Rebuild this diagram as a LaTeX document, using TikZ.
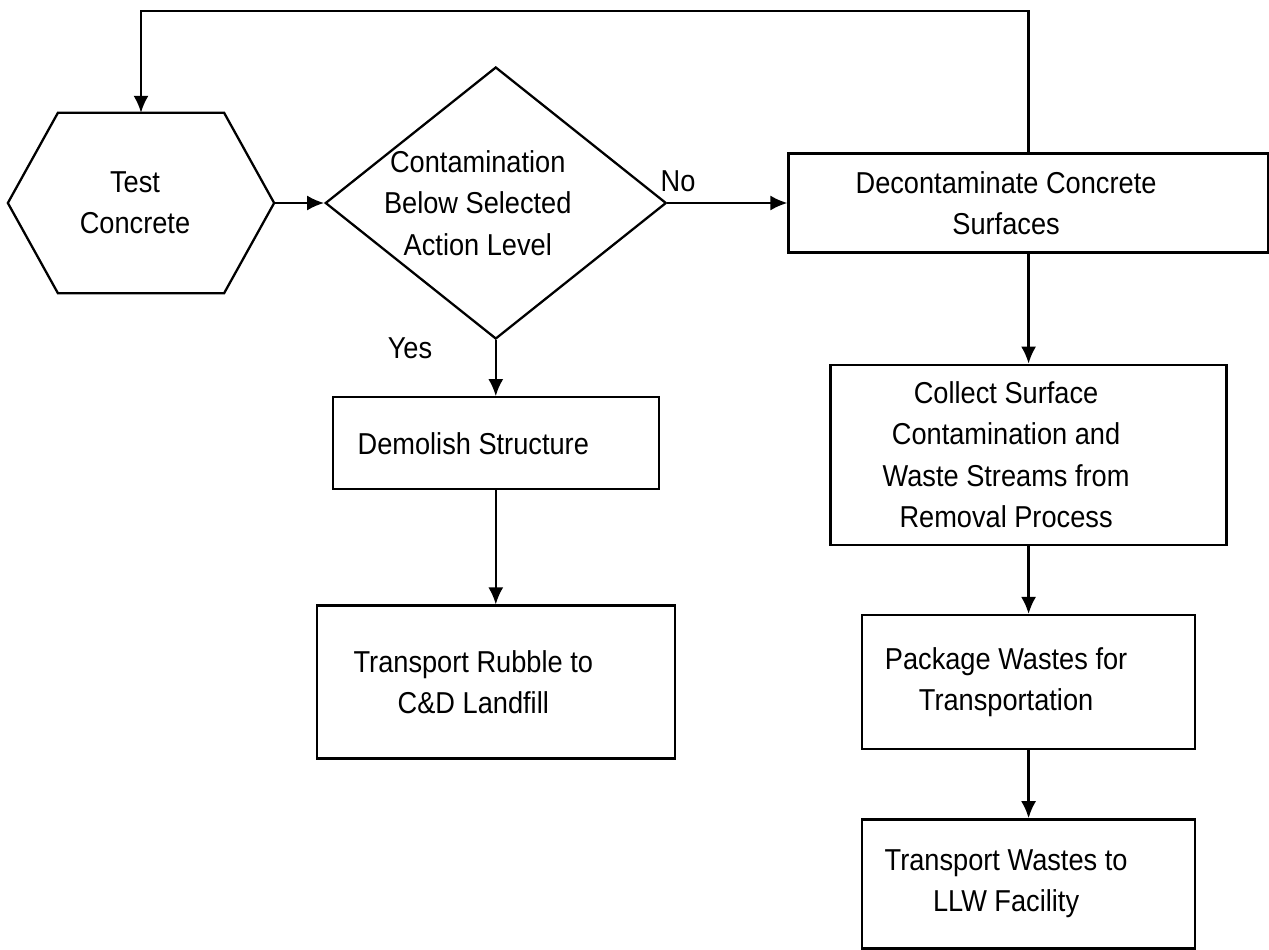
\documentclass[tikz,border=0pt]{standalone}
\usepackage{fontspec}
\setmainfont{Liberation Sans}[FakeStretch=0.9]
\usetikzlibrary{arrows.meta,positioning,shapes.geometric}

\begin{document}
\begin{tikzpicture}[>={Latex[length=3.4mm,width=3mm]},line width=1.3pt,
  font=\fontsize{17.2}{23.6}\selectfont,
  procbox/.style={draw,rectangle,inner sep=0pt},
  boxtext/.style={align=center,xshift=-0.45cm}]
\useasboundingbox (0,0) rectangle (25.38,-19);
% hexagon start node
\node[inner sep=0pt,minimum width=5.28cm,minimum height=3.56cm,label={[boxtext,xshift=0.33cm]center:Test\\Concrete}] (test) at (2.82,-4.06) {};
\draw (test.west) -- ([xshift=1cm]test.north west) -- ([xshift=-1cm]test.north east) -- (test.east)
  -- ([xshift=-1cm]test.south east) -- ([xshift=1cm]test.south west) -- cycle;
\node[diamond,draw,inner sep=0pt,minimum width=6.82cm,minimum height=5.44cm,right=1cm of test,
  label={[boxtext,xshift=0.09cm]center:Contamination\\Below Selected\\Action Level}] (dec) {};
\node[procbox,minimum width=9.6cm,minimum height=1.98cm,right=2.4cm of dec,
  label={[boxtext]center:Decontaminate Concrete\\Surfaces}] (decon) {};
% left branch
\node[procbox,minimum width=6.52cm,minimum height=1.84cm,below=1.12cm of dec,
  label={[boxtext]center:Demolish Structure}] (demolish) {};
\node[procbox,minimum width=7.16cm,minimum height=3.06cm,below=2.28cm of demolish,
  label={[boxtext]center:Transport Rubble to\\C\&D Landfill}] (rubble) {};
% right branch
\node[procbox,minimum width=7.92cm,minimum height=3.6cm,below=2.2cm of decon,
  label={[boxtext]center:Collect Surface\\Contamination and\\Waste Streams from\\Removal Process}] (collect) {};
\node[procbox,minimum width=6.66cm,minimum height=2.68cm,below=1.36cm of collect,
  label={[boxtext]center:Package Wastes for\\Transportation}] (package) {};
\node[procbox,minimum width=6.66cm,minimum height=2.58cm,below=1.36cm of package,
  label={[boxtext]center:Transport Wastes to\\LLW Facility}] (llw) {};
\node (no) at (13.56,-3.62) {No};
\node (yes) at (8.2,-6.96) {Yes};
\coordinate (top) at (0,-0.22);
\draw[->] (test) -- (dec);
\draw[->] (dec) -- (decon);
\draw[->] (dec) -- (demolish);
\draw[->] (demolish) -- (rubble);
\draw[->] (decon) -- (collect);
\draw[->] (collect) -- (package);
\draw[->] (package) -- (llw);
\draw[->] (decon.north) -- (decon.north |- top) -| (test.north);
\end{tikzpicture}
\end{document}
